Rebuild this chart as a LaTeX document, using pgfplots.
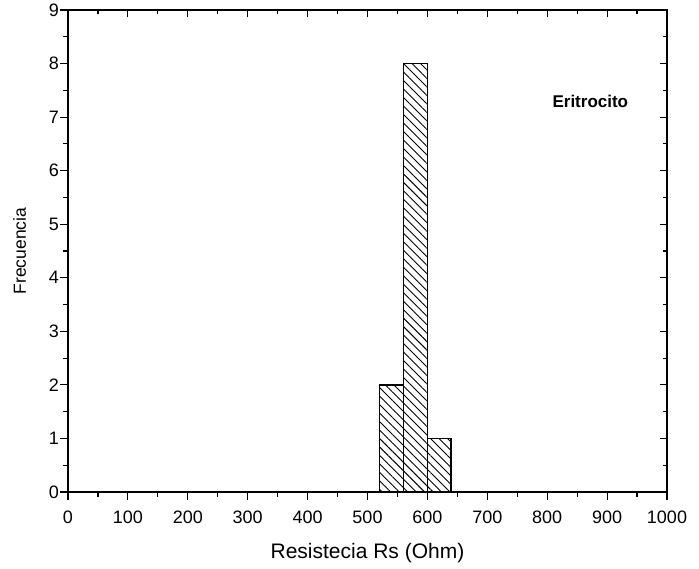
\documentclass[border=0pt]{standalone}
\usepackage{pgfplots}
\pgfplotsset{compat=1.18}
\usepackage{fontspec}
\setmainfont{Liberation Sans}
\usetikzlibrary{patterns.meta}

\begin{document}
\begin{tikzpicture}
\useasboundingbox (-68pt,-76pt) rectangle (631pt,492pt);
% frame with inward mirror ticks on top and right
\begin{axis}[
  scale only axis, width=599pt, height=482pt,
  xmin=0, xmax=1000, ymin=0, ymax=9,
  xtick={0,100,...,1000}, ytick={0,1,...,9},
  minor xtick={50,150,...,950}, minor ytick={0.5,1.5,...,8.5},
  xtick pos=right, ytick pos=right, tick align=inside,
  xticklabels={}, yticklabels={},
  major tick length=7pt, minor tick length=4pt,
  axis line style={line width=1.6pt},
  every tick/.style={black, line width=1.2pt},
]
\end{axis}
\begin{axis}[
  scale only axis, width=599pt, height=482pt,
  xmin=0, xmax=1000, ymin=0, ymax=9,
  xtick={0,100,...,1000}, ytick={0,1,...,9},
  minor xtick={50,150,...,950}, minor ytick={0.5,1.5,...,8.5},
  xtick pos=left, ytick pos=left, tick align=outside,
  major tick length=8pt, minor tick length=5pt,
  axis line style={line width=1.6pt},
  every tick/.style={black, line width=1.2pt},
  /pgf/number format/assume math mode=true,
  /pgf/number format/1000 sep={},
  ticklabel style={font=\fontsize{18}{20}\selectfont},
  xticklabel style={yshift=-7pt},
  yticklabel style={xshift=2.5pt},
  xlabel={Resistecia Rs (Ohm)}, ylabel={Frecuencia},
  xlabel style={font=\fontsize{21}{24}\selectfont, yshift=-13pt},
  ylabel style={font=\fontsize{17.5}{20}\selectfont, yshift=16pt},
]
\addplot[ybar, bar width=40, bar shift=0pt, draw=black, line width=1.8pt, fill=white,
  postaction={pattern={Lines[angle=-45,distance=6pt,line width=0.9pt]}}]
  coordinates {(540,2) (580,8) (620,1)};
\node[font=\bfseries\fontsize{17}{20}\selectfont, anchor=center] at (axis cs:872,7.3) {Eritrocito};
\end{axis}
\end{tikzpicture}
\end{document}
